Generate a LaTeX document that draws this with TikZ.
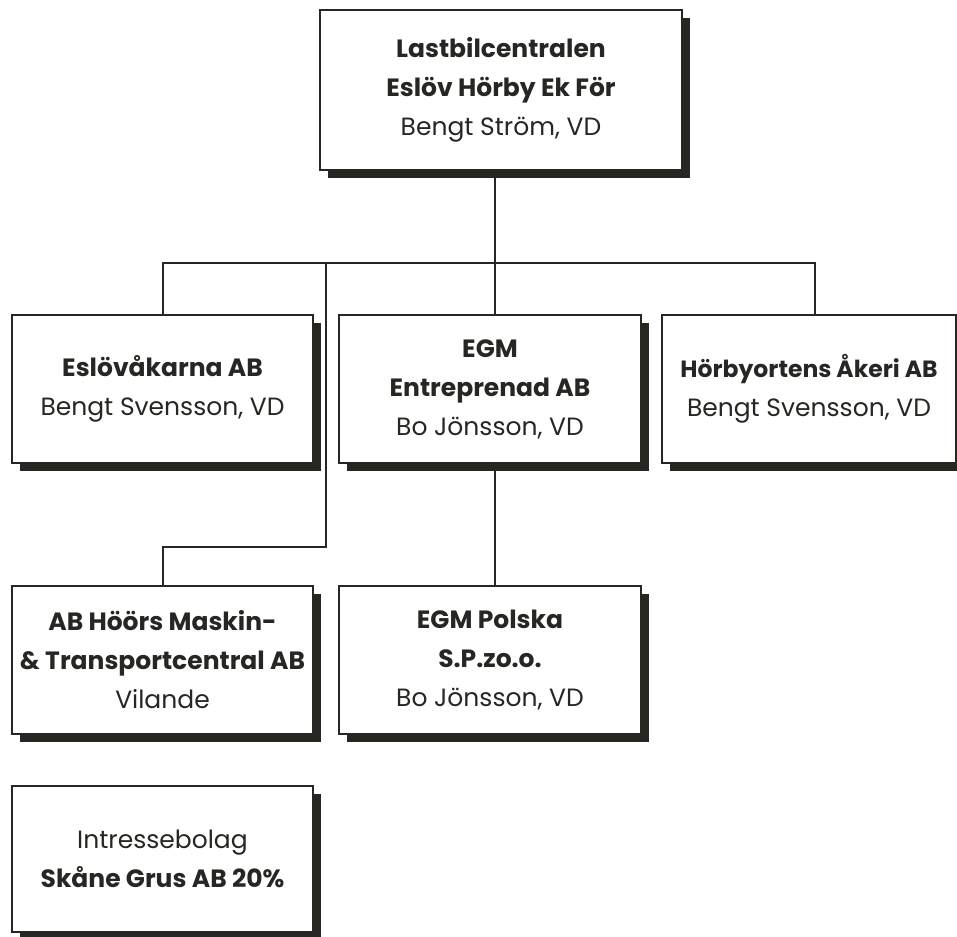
\documentclass[tikz,border=0pt]{standalone}
\usepackage{fontspec}
\setmainfont{Poppins}
\usetikzlibrary{shadows}
\definecolor{ink}{HTML}{262622}
\begin{document}
\begin{tikzpicture}[x=1pt,y=-1pt,
  orgbox/.style={draw=ink, line width=2.4pt, fill=white, inner sep=0pt, align=center,
    font=\fontsize{25}{39}\selectfont, text=ink,
    drop shadow={shadow xshift=8pt, shadow yshift=-8pt, fill=ink, opacity=1}},
  link/.style={draw=ink, line width=2pt}]
\useasboundingbox (0,0) rectangle (957,936);
\node[orgbox, minimum width=362pt, minimum height=160pt] (top) at (501,90)
  {\textbf{Lastbilcentralen}\\\textbf{Eslöv Hörby Ek För}\\Bengt Ström, VD};
\node[orgbox, minimum width=301pt, minimum height=148pt] (eslov) at (162.5,389)
  {\textbf{Eslövåkarna AB}\\Bengt Svensson, VD};
\node[orgbox, minimum width=302pt, minimum height=148pt] (egm) at (490,389)
  {\textbf{EGM}\\\textbf{Entreprenad AB}\\Bo Jönsson, VD};
\node[orgbox, minimum width=294pt, minimum height=148pt, font=\fontsize{23.5}{39}\selectfont] (horby) at (809,389)
  {\textbf{Hörbyortens Åkeri AB}\\{\fontsize{25}{39}\selectfont Bengt Svensson, VD}};
\node[orgbox, minimum width=301pt, minimum height=148pt] (hoors) at (162.5,660)
  {\textbf{AB Höörs Maskin-}\\\textbf{\& Transportcentral AB}\\Vilande};
\node[orgbox, minimum width=302pt, minimum height=148pt] (polska) at (490,660)
  {\textbf{EGM Polska}\\\textbf{S.P.zo.o.}\\Bo Jönsson, VD};
\node[orgbox, minimum width=301pt, minimum height=146pt] (intresse) at (162.5,859)
  {Intressebolag\\\textbf{Skåne Grus AB 20\%}};
\coordinate (busL) at (163,263);
\coordinate (busR) at (815,263);
\coordinate (trunk) at (495,263);
\coordinate (side) at (326,263);
\coordinate (sideB) at (326,547);
\draw[link] (top.south -| trunk) -- (egm.north -| trunk);
\draw[link] (eslov.north -| busL) -- (busL) -- (busR) -- (horby.north -| busR);
\draw[link] (side) -- (sideB) -- (sideB -| busL) -- (hoors.north -| busL);
\draw[link] (egm.south -| trunk) -- (polska.north -| trunk);
\end{tikzpicture}
\end{document}
